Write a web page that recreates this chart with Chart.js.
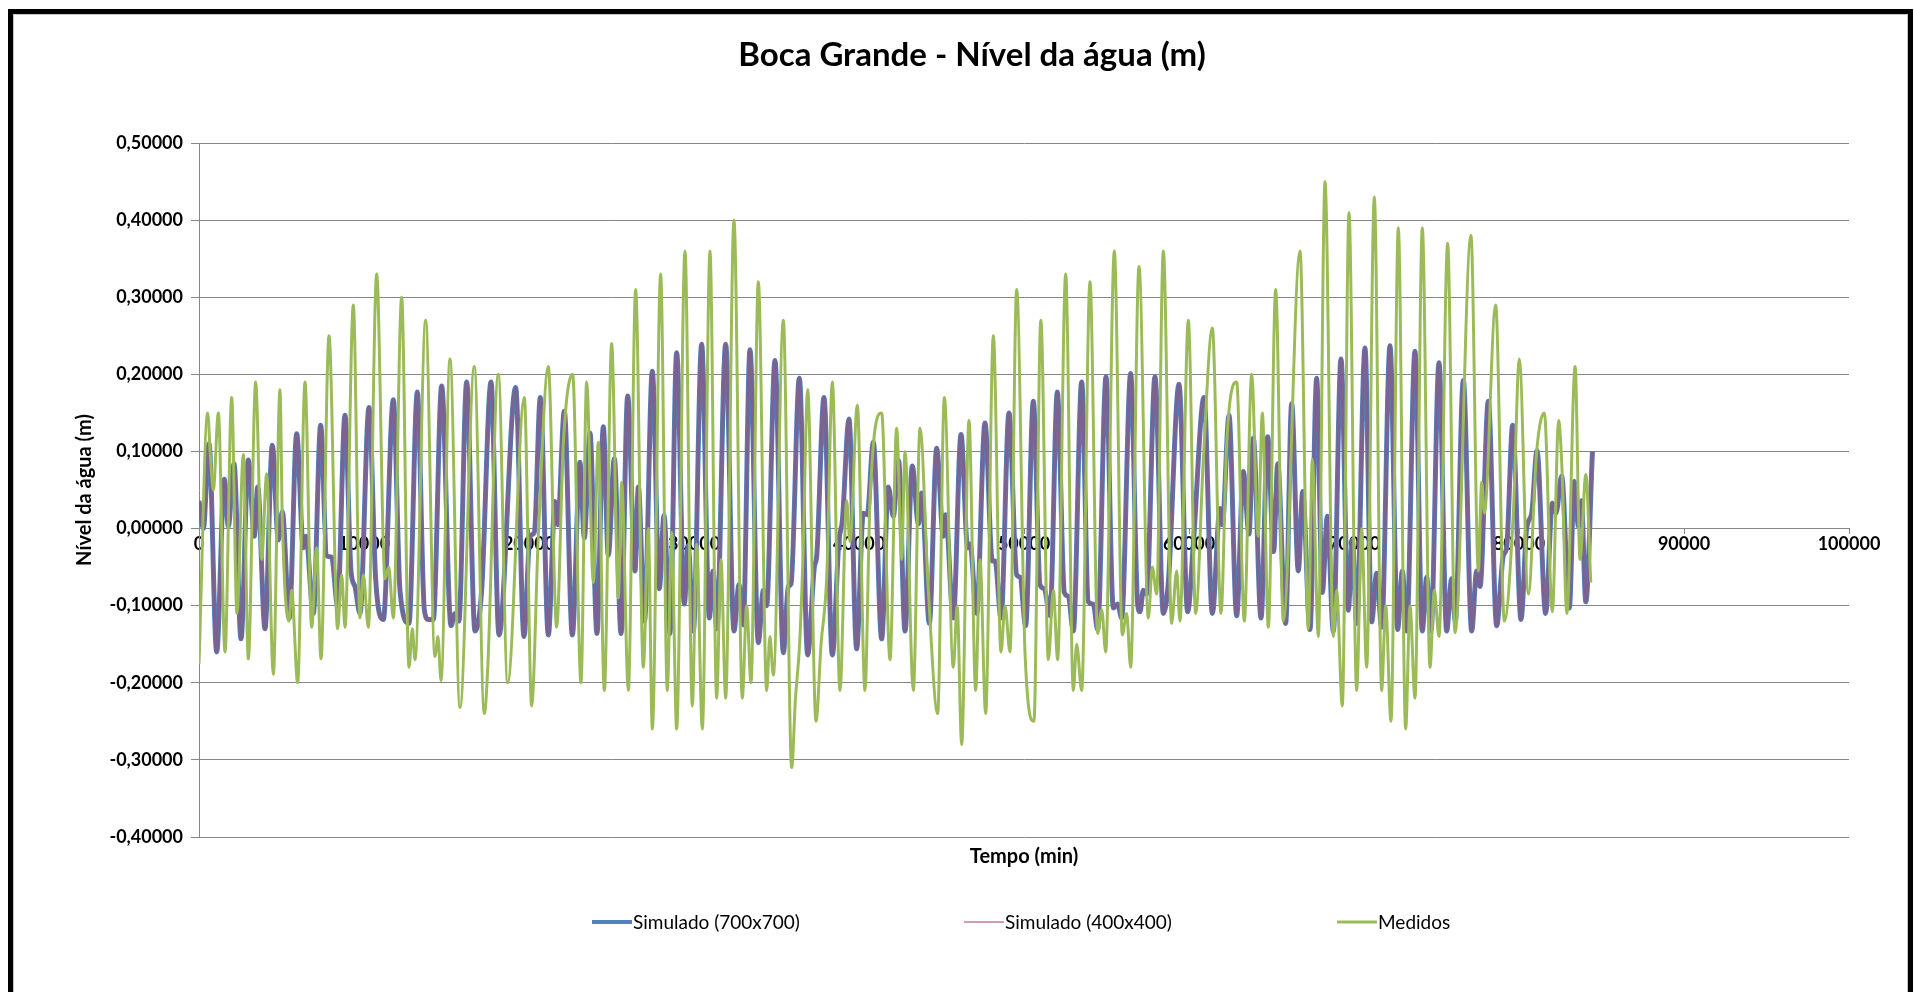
<!DOCTYPE html>
<html lang="pt">
<head>
    <meta charset="UTF-8">
    <title>Boca Grande - Nível da água (m)</title>
    <script src="https://cdn.jsdelivr.net/npm/chart.js"></script>
    <style>
        html, body {
            margin: 0;
            padding: 0;
            background: #fff;
            overflow: hidden;
        }
        #wrap {
            position: relative;
            width: 1914px;
            height: 992px;
        }
        #wrap canvas {
            position: absolute;
            left: 0;
            top: 0;
        }
        #chartTitle {
            position: absolute;
            left: 972px;
            top: 53px;
            transform: translate(-50%, -50%);
            margin: 0;
            font: bold 33px Lato, "Open Sans", sans-serif;
            line-height: 1;
            white-space: nowrap;
            color: #000;
        }
        #frame {
            position: absolute;
            left: 8px;
            top: 9px;
            width: 1895px;
            height: 1000px;
            border: 5px solid #000;
            box-shadow: inset 0 0 0 1px #c8c8c8;
            pointer-events: none;
        }
    </style>
</head>
<body>
    <div id="wrap">
        <canvas id="tideChart" width="1914" height="992"></canvas>
        <h1 id="chartTitle">Boca Grande - Nível da água (m)</h1>
        <div id="frame"></div>
    </div>

    <script>
        // series labels
        const seriesNames = ["Simulado (700x700)", "Simulado (400x400)", "Medidos"];

        // simulated water level (m) at time (min)
        const simTime = [
            0, 263, 606, 1071, 1536, 1778, 2121, 2546, 2990, 3354, 3556, 4000, 4444, 4808, 5050, 5475,
            5919, 6323, 6485, 6929, 7373, 7737, 8040, 8400, 8848, 9212, 9450, 9757, 10302, 10706, 11171, 11777,
            12181, 12726, 13231, 13656, 13900, 14200, 14706, 15272, 15514, 15750, 16221, 16726, 17131, 17697, 18181, 19191,
            19697, 20061, 20323, 20686, 21171, 21575, 21737, 22141, 22626, 23090, 23353, 23696, 24120, 24504, 24807, 25171,
            25580, 25980, 26424, 26626, 27000, 27474, 27899, 28181, 28545, 28949, 29414, 29650, 29959, 30464, 30929, 31150,
            31380, 31918, 32423, 32726, 32980, 33393, 33899, 34202, 34400, 34909, 35414, 35717, 35880, 36384, 36889, 37293,
            37440, 37878, 38383, 38787, 38990, 39393, 39858, 40262, 40500, 40868, 41373, 41777, 42080, 42400, 42788, 43232,
            43596, 43798, 44263, 44707, 45111, 45252, 45717, 46182, 46586, 46730, 47131, 47636, 48080, 48250, 48606, 49090,
            49555, 49760, 50100, 50565, 50970, 51230, 51576, 52020, 52445, 52690, 52990, 53495, 53899, 54200, 54465, 54970,
            55414, 55680, 55919, 56464, 56888, 57030, 57232, 57434, 57939, 58444, 58747, 59393, 59920, 60263, 60909, 61414,
            61879, 62020, 62424, 62889, 63293, 63636, 63899, 64364, 64768, 65131, 65374, 65858, 66222, 66626, 66889, 67333,
            67737, 68080, 68384, 68747, 69212, 69656, 69899, 70161, 70666, 71070, 71373, 71676, 72181, 72646, 72929, 73191,
            73696, 74140, 74403, 74666, 75151, 75615, 75918, 76140, 76626, 77131, 77434, 77640, 78141, 78646, 79050, 79250,
            79616, 80121, 80464, 80770, 81090, 81615, 82019, 82240, 82585, 83050, 83350, 83600, 83780, 84050, 84450
        ];
        const sim700Level = [
            0.036, 0.000, 0.110, -0.160, 0.064, 0.003, 0.084, -0.143, 0.089, -0.010, 0.054, -0.130, 0.108, -0.015, 0.022, -0.116,
            0.123, -0.025, -0.010, -0.110, 0.134, -0.035, -0.037, -0.100, 0.147, -0.055, -0.075, -0.110, 0.157, -0.065, -0.118, 0.167,
            -0.080, -0.123, 0.177, -0.105, -0.118, -0.118, 0.185, -0.126, -0.110, -0.120, 0.190, -0.133, -0.080, 0.190, -0.138, 0.183,
            -0.140, -0.010, -0.005, 0.170, -0.138, 0.035, 0.005, 0.152, -0.138, 0.086, -0.012, 0.124, -0.136, 0.132, -0.035, 0.091,
            -0.136, 0.172, -0.055, 0.054, -0.120, 0.204, -0.078, 0.017, -0.136, 0.228, -0.098, -0.022, -0.133, 0.239, -0.116, -0.055,
            -0.130, 0.239, -0.133, -0.073, -0.125, 0.232, -0.148, -0.080, -0.100, 0.218, -0.161, -0.075, -0.072, 0.195, -0.164, -0.050,
            -0.035, 0.170, -0.164, -0.015, 0.010, 0.142, -0.156, 0.020, 0.018, 0.112, -0.143, 0.054, 0.016, 0.088, -0.133, 0.081,
            0.006, 0.046, -0.123, 0.104, -0.010, 0.018, -0.116, 0.122, -0.025, -0.020, -0.110, 0.137, -0.042, -0.042, -0.116, 0.150,
            -0.060, -0.063, -0.126, 0.165, -0.073, -0.078, -0.113, 0.177, -0.083, -0.088, -0.133, 0.190, -0.095, -0.098, -0.131, 0.197,
            -0.103, -0.098, -0.116, 0.201, -0.098, -0.108, -0.080, -0.085, 0.197, -0.110, -0.070, 0.187, -0.108, -0.020, 0.170, -0.110,
            0.026, 0.005, 0.147, -0.113, 0.074, -0.007, 0.117, -0.116, 0.119, -0.030, 0.084, -0.123, 0.162, -0.055, 0.048, -0.131,
            0.195, -0.083, 0.016, -0.133, 0.220, -0.106, -0.015, -0.123, 0.234, -0.121, -0.058, -0.128, 0.237, -0.131, -0.055, -0.133,
            0.230, -0.133, -0.063, -0.133, 0.215, -0.133, -0.065, -0.120, 0.192, -0.133, -0.055, -0.075, 0.165, -0.126, -0.035, -0.025,
            0.134, -0.118, 0.000, 0.020, 0.101, -0.110, 0.033, 0.020, 0.068, -0.103, 0.061, 0.003, 0.036, -0.095, 0.100
        ];
        // the 400x400 run sits on top of the 700x700 one everywhere in the picture
        const sim400Level = sim700Level.slice();

        // measured water level (m)
        const medTime = [
            0, 525, 700, 869, 1172, 1576, 1980, 2300, 2687, 2990, 3434, 3798, 4101, 4505, 4909, 5050,
            5454, 5616, 5980, 6424, 6828, 7131, 7393, 7878, 8400, 8646, 8848, 9353, 9757, 9959, 10262, 10767,
            11272, 11500, 11777, 12282, 12726, 12929, 13090, 13736, 14302, 14480, 14666, 15211, 15817, 16686, 17293, 17500,
            18141, 18706, 19716, 20161, 20565, 21171, 21676, 22080, 22646, 23151, 23494, 23900, 24201, 24565, 25009, 25413,
            25616, 26020, 26464, 26929, 27232, 27474, 27979, 28383, 28646, 28949, 29454, 29898, 30161, 30504, 30969, 31373,
            31636, 31918, 32423, 32928, 33191, 33454, 33898, 34404, 34600, 34808, 35414, 35919, 36150, 36400, 36600, 36889,
            37394, 37700, 38050, 38383, 38848, 39252, 39454, 39898, 40363, 40666, 41373, 41878, 42283, 42586, 42788, 43293,
            43697, 44202, 44768, 45171, 45717, 45950, 46222, 46666, 47070, 47333, 47676, 48141, 48606, 48848, 49151, 49555,
            50060, 50600, 51020, 51475, 51778, 52040, 52525, 52990, 53192, 53495, 54000, 54465, 54707, 54950, 55475, 55959,
            56222, 56464, 56969, 57535, 57777, 58040, 58444, 58949, 59252, 59450, 59960, 60404, 60869, 61414, 61940, 62283,
            62889, 63353, 63798, 64191, 64444, 64808, 65253, 65717, 66727, 67232, 67475, 67838, 68242, 68747, 68949, 69292,
            69696, 70161, 70464, 70767, 71232, 71676, 71919, 72242, 72686, 73131, 73394, 73696, 74140, 74605, 74868, 75151,
            75676, 76120, 77090, 77535, 77737, 77899, 78585, 79111, 79656, 80020, 80565, 81070, 81535, 82020, 82400, 82600,
            82900, 83400, 83700, 84050, 84350
        ];
        const medLevel = [
            -0.176, 0.150, 0.090, 0.050, 0.150, -0.160, 0.170, -0.110, 0.096, -0.169, 0.190, -0.040, 0.071, -0.189, 0.180, 0.010,
            -0.120, -0.080, -0.200, 0.190, -0.128, -0.025, -0.169, 0.250, -0.130, -0.060, -0.128, 0.290, -0.116, -0.060, -0.128, 0.330,
            -0.065, -0.050, -0.116, 0.300, -0.180, -0.130, -0.170, 0.270, -0.166, -0.140, -0.197, 0.220, -0.232, 0.210, -0.240, -0.180,
            0.200, -0.200, 0.170, -0.230, -0.010, 0.210, -0.128, 0.110, 0.200, -0.200, 0.190, -0.070, 0.112, -0.210, 0.240, -0.090,
            0.060, -0.210, 0.310, -0.180, 0.000, -0.260, 0.330, -0.210, -0.005, -0.260, 0.360, -0.230, -0.020, -0.260, 0.360, -0.220,
            -0.040, -0.220, 0.400, -0.220, -0.100, -0.200, 0.320, -0.210, -0.140, -0.190, 0.270, -0.310, -0.220, -0.150, -0.040, 0.180,
            -0.250, -0.150, -0.060, 0.190, -0.210, 0.036, -0.017, 0.160, -0.210, 0.036, 0.150, -0.170, 0.130, -0.040, 0.100, -0.210,
            0.130, -0.080, -0.240, 0.170, -0.180, -0.100, -0.280, 0.140, -0.210, -0.040, -0.240, 0.250, -0.160, -0.100, -0.160, 0.310,
            -0.160, -0.250, 0.270, -0.170, -0.080, -0.170, 0.330, -0.210, -0.150, -0.210, 0.320, -0.136, -0.105, -0.160, 0.360, -0.138,
            -0.110, -0.180, 0.340, -0.116, -0.050, -0.085, 0.360, -0.123, -0.055, -0.120, 0.270, -0.110, 0.090, 0.260, -0.110, 0.110,
            0.190, -0.120, 0.200, -0.010, 0.150, -0.128, 0.310, -0.120, 0.360, -0.130, 0.090, -0.140, 0.450, -0.140, -0.080, -0.230,
            0.410, -0.210, 0.000, -0.180, 0.430, -0.210, -0.100, -0.250, 0.390, -0.260, -0.100, -0.220, 0.390, -0.180, -0.080, -0.140,
            0.370, -0.135, 0.380, -0.055, 0.060, 0.020, 0.290, -0.120, 0.020, 0.220, -0.085, 0.100, 0.150, -0.108, 0.140, 0.080,
            -0.110, 0.210, -0.040, 0.070, -0.070
        ];

        // axis ranges
        const xMin = 0, xMax = 100000, xStep = 10000;
        const yMin = -0.4, yMax = 0.5, yStep = 0.1;

        const toPoints = (xs, ys) => xs.map((x, i) => ({ x: x, y: ys[i] }));

        Chart.defaults.font.family = "Lato, 'Open Sans', sans-serif";
        Chart.defaults.color = "#000";

        // legend spread out like the spreadsheet one
        const spreadLegend = {
            id: "spreadLegend",
            afterDraw(chart) {
                const c = chart.ctx;
                const y = 922;
                const xs = [592, 964, 1337];
                const widths = [4, 1.5, 3];
                const colors = ["#4F81BD", "#C77D8E", "#9BBB59"];
                c.save();
                c.font = "19px Lato, sans-serif";
                c.textBaseline = "middle";
                c.fillStyle = "#000";
                chart.data.datasets.forEach((ds, i) => {
                    c.strokeStyle = colors[i];
                    c.lineWidth = widths[i];
                    c.beginPath();
                    c.moveTo(xs[i], y);
                    c.lineTo(xs[i] + 40, y);
                    c.stroke();
                    c.fillText(ds.label, xs[i] + 41, y + 1);
                });
                c.restore();
            }
        };

        const ctx = document.getElementById("tideChart").getContext("2d");
        const tideChart = new Chart(ctx, {
            type: "line",
            data: {
                datasets: [
                    {
                        label: seriesNames[0],
                        data: toPoints(simTime, sim700Level),
                        borderColor: "#4F81BD",
                        borderWidth: 5,
                        order: 2
                    },
                    {
                        label: seriesNames[1],
                        data: toPoints(simTime, sim400Level),
                        borderColor: "rgba(165, 70, 105, 0.5)",
                        borderWidth: 3.5,
                        order: 1
                    },
                    {
                        label: seriesNames[2],
                        data: toPoints(medTime, medLevel),
                        borderColor: "#9BBB59",
                        borderWidth: 3,
                        order: 0
                    }
                ]
            },
            options: {
                responsive: false,
                animation: false,
                elements: {
                    point: { radius: 0 },
                    line: { cubicInterpolationMode: "monotone", fill: false }
                },
                layout: {
                    padding: { left: 69, right: 65, top: 143, bottom: 123 }
                },
                plugins: {
                    legend: { display: false },
                    tooltip: { enabled: false },
                    title: { display: false }
                },
                scales: {
                    x: {
                        type: "linear",
                        axis: "x",
                        position: { y: 0 },
                        min: xMin,
                        max: xMax,
                        ticks: {
                            stepSize: xStep,
                            autoSkip: false,
                            maxRotation: 0,
                            padding: 0,
                            color: "#000",
                            font: { size: 18, weight: "bold" },
                            callback: v => String(v)
                        },
                        grid: { drawOnChartArea: false, color: "#868686", tickLength: 5 },
                        border: { color: "#868686" }
                    },
                    xTitle: {
                        type: "linear",
                        axis: "x",
                        position: "bottom",
                        min: xMin,
                        max: xMax,
                        ticks: { display: false },
                        grid: { display: false },
                        border: { display: false },
                        title: {
                            display: true,
                            text: "Tempo (min)",
                            color: "#000",
                            font: { size: 20, weight: "bold" },
                            padding: { top: 0, bottom: 0 }
                        }
                    },
                    y: {
                        min: yMin,
                        max: yMax,
                        ticks: {
                            stepSize: yStep,
                            padding: 8,
                            color: "#000",
                            font: { size: 18, weight: "bold" },
                            callback: v => (Math.abs(v) < 1e-9 ? 0 : v).toFixed(5).replace(".", ",")
                        },
                        grid: { color: "#868686", tickLength: 8 },
                        border: { color: "#868686" },
                        title: {
                            display: true,
                            text: "Nível da água (m)",
                            color: "#000",
                            font: { size: 20, weight: "bold" },
                            padding: { top: 4, bottom: 4 }
                        },
                        afterFit: scale => { scale.width = 130; }
                    }
                }
            },
            plugins: [spreadLegend]
        });
    </script>
</body>
</html>
